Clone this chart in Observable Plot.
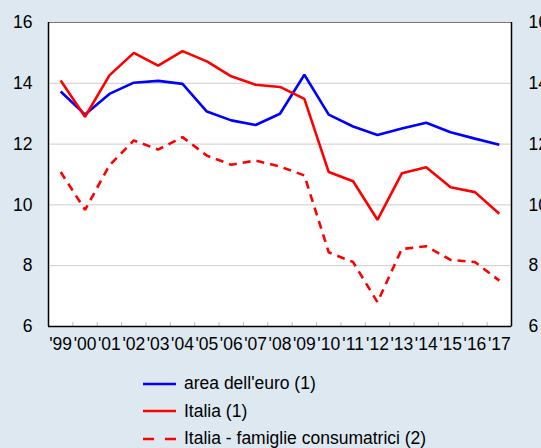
<!DOCTYPE html>
<html><head><meta charset="utf-8">
<script src="https://cdn.jsdelivr.net/npm/d3@7"></script>
<script src="https://cdn.jsdelivr.net/npm/@observablehq/plot@0.6"></script>
<style>
html,body{margin:0;padding:0;background:#dde8f1;}
#wrap{position:relative;width:541px;height:448px;overflow:hidden;background:#dde8f1;font-family:"Liberation Sans",Arial,Helvetica,sans-serif;}
#chart svg{display:block;}
#legend{position:absolute;left:143px;top:370px;}
.row{display:flex;align-items:center;height:27.5px;font-size:17.5px;color:#000;white-space:nowrap;}
.row svg{margin-right:8px;}
</style></head><body>
<div id="wrap"><div id="chart"></div><div id="legend"></div></div>
<script>
const years = [1999,2000,2001,2002,2003,2004,2005,2006,2007,2008,2009,2010,2011,2012,2013,2014,2015,2016,2017];
const euroArea = [13.73,12.97,13.65,14.02,14.08,13.98,13.07,12.78,12.63,13.0,14.28,12.97,12.58,12.3,12.51,12.7,12.39,12.18,11.98];
const italia = [14.09,12.9,14.26,15.0,14.58,15.06,14.72,14.23,13.95,13.88,13.49,11.08,10.78,9.51,11.04,11.24,10.58,10.42,9.71];
const italiaFamiglie = [11.08,9.84,11.3,12.12,11.82,12.23,11.62,11.32,11.46,11.26,10.97,8.44,8.12,6.8,8.55,8.64,8.19,8.12,7.51];
const seriesNames = ["area dell'euro (1)", "Italia (1)", "Italia - famiglie consumatrici (2)"];
const seriesColors = ["#0000ff", "#ff0000", "#ff0000"];
const seriesDash = [null, null, "8,6"];
const yTicks = [6,8,10,12,14,16];
const yGrid = [8,10,12,14];
const xDomain = [years[0] - 0.5, years[years.length - 1] + 0.5];
const xBoundaries = years.slice(0, -1).map(y => y + 0.5);

const allSeries = [euroArea, italia, italiaFamiglie];
const data = allSeries.flatMap((vals, s) => vals.map((v, i) => ({year: years[i], value: v, series: seriesNames[s]})));

const font = '"Liberation Sans",Arial,Helvetica,sans-serif';
const plot = Plot.plot({
  width: 541,
  height: 362,
  marginLeft: 48,
  marginRight: 30,
  marginTop: 22,
  marginBottom: 36,
  style: {background: "transparent", fontFamily: font, fontSize: "17.5px", color: "#000"},
  x: {domain: xDomain},
  y: {domain: [yTicks[0], yTicks[yTicks.length - 1]]},
  marks: [
    Plot.frame({fill: "white"}),
    Plot.ruleY(yGrid, {stroke: "#cccccc", strokeWidth: 1}),
    Plot.ruleX(xBoundaries, {stroke: "#bbbbbb", strokeWidth: 1, insetTop: 300}),
    ...allSeries.map((vals, s) => Plot.line(data.filter(d => d.series === seriesNames[s]), {
      x: "year", y: "value", stroke: seriesColors[s], strokeWidth: 2.6,
      strokeDasharray: seriesDash[s], strokeLinejoin: "miter", strokeLinecap: "butt"
    })),
    Plot.frame({stroke: "#777", strokeWidth: 1}),
    Plot.ruleY([yTicks[0]], {stroke: "#000", strokeWidth: 1.5}),
    Plot.ruleX(xDomain, {stroke: "#000", strokeWidth: 1.5}),
    Plot.axisY(yTicks, {anchor: "left", tickSize: 0, tickPadding: 16, label: null, fontSize: 17.5}),
    Plot.axisY(yTicks, {anchor: "right", tickSize: 0, tickPadding: 17, label: null, fontSize: 17.5}),
    Plot.axisX(years, {anchor: "bottom", tickSize: 0, tickPadding: 11, label: null, fontSize: 17.5,
      tickFormat: d => "'" + String(d).slice(2)})
  ]
});
document.getElementById("chart").appendChild(plot);

const legend = document.getElementById("legend");
seriesNames.forEach((name, s) => {
  const row = document.createElement("div");
  row.className = "row";
  row.innerHTML = `<svg width="33" height="10"><line x1="0" y1="5" x2="33" y2="5" stroke="${seriesColors[s]}" stroke-width="2.6" ${seriesDash[s] ? `stroke-dasharray="11,11"` : ""}/></svg><span>${name}</span>`;
  legend.appendChild(row);
});
</script>
</body></html>
